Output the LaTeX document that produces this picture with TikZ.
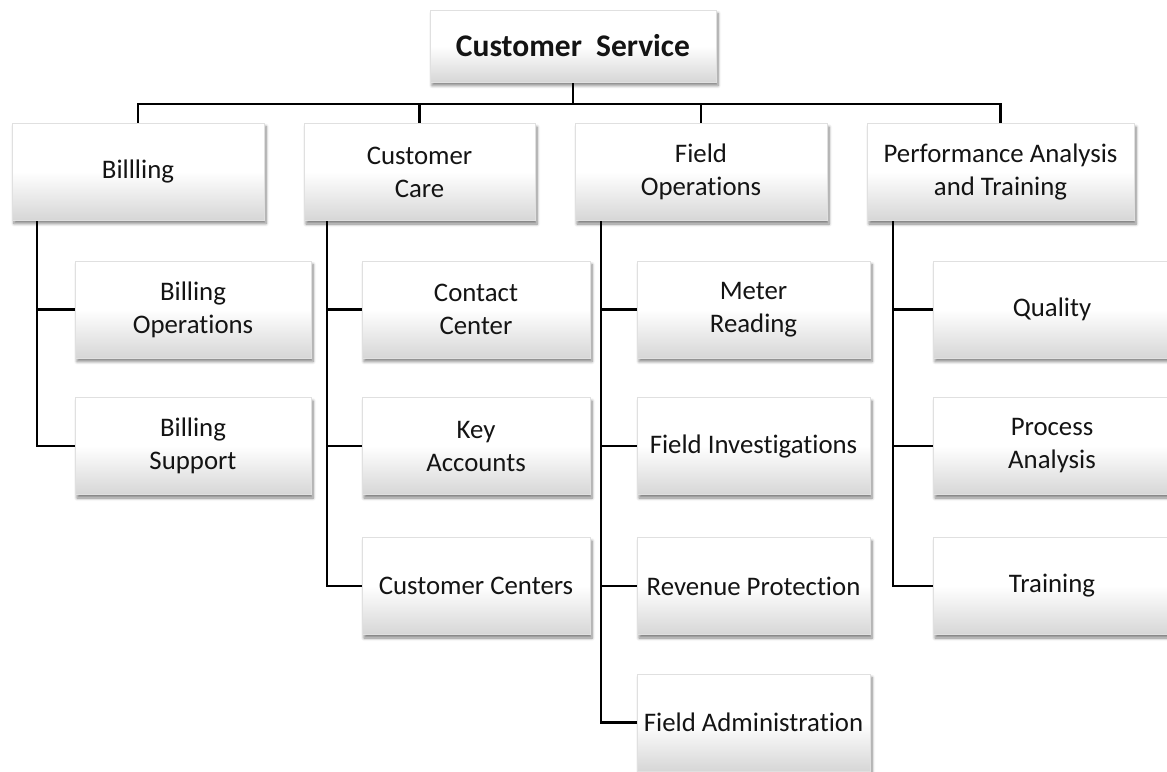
\documentclass[tikz,border=0pt]{standalone}
\usepackage{fontspec}
\setmainfont{Carlito}[Ligatures=NoCommon]
\usetikzlibrary{shadows.blur,backgrounds}
\tikzset{
  box/.style={rectangle, inner sep=0pt, align=center,
    draw=black!12, line width=0.4pt,
    top color=white, bottom color=black!16, middle color=white,
    blur shadow={shadow xshift=2pt, shadow yshift=-3.5pt, shadow blur steps=6, shadow blur radius=3pt, shadow opacity=50},
    font=\fontsize{26.8}{33}\selectfont, text=black!92},
  lvl1/.style={box, minimum height=97pt},
  lvl2/.style={box, minimum height=97pt},
  conn/.style={line width=2.2pt, black}
}
\begin{document}
\begin{tikzpicture}[x=1pt,y=-1pt]
\useasboundingbox (0,0) rectangle (1167,771);
% top
\node[box, minimum width=286pt, minimum height=72pt, font=\bfseries\fontsize{31.5}{36}\selectfont] (cs) at (573,46) {Customer\ \ Service};
% level 1
\node[lvl1, minimum width=252pt] (bil) at (138,171.5) {Billling};
\node[lvl1, minimum width=231pt] (cc) at (419.5,172) {Customer\\Care};
\node[lvl1, minimum width=252pt] (fo) at (701,172) {Field\\Operations};
\node[lvl1, minimum width=267pt] (pat) at (1000.5,172) {Performance Analysis\\and Training};
% billing children
\node[lvl2, minimum width=236pt] (bops) at (193,309.5) {Billing\\Operations};
\node[lvl2, minimum width=236pt] (bsup) at (193,446) {Billing\\Support};
% customer care children
\node[lvl2, minimum width=228pt] (ctc) at (476,309.5) {Contact\\Center};
\node[lvl2, minimum width=228pt] (key) at (476,446) {Key\\Accounts};
\node[lvl2, minimum width=228pt] (ccen) at (476,586) {Customer Centers};
% field operations children
\node[lvl2, minimum width=233pt] (mr) at (753.5,309.5) {Meter\\Reading};
\node[lvl2, minimum width=233pt] (fi) at (753.5,446) {Field Investigations};
\node[lvl2, minimum width=233pt] (rp) at (753.5,586) {Revenue Protection};
\node[lvl2, minimum width=233pt] (fa) at (753.5,722.5) {Field Administration};
% performance children
\node[lvl2, minimum width=238pt] (qual) at (1052,309.5) {Quality};
\node[lvl2, minimum width=238pt] (proc) at (1052,446) {Process\\Analysis};
\node[lvl2, minimum width=238pt] (trn) at (1052,586) {Training};
\begin{scope}[on background layer]
\coordinate (bus) at (573,104);
\draw[conn] (cs.south) -- (bus);
\draw[conn] (bus) -| (bil.north);
\draw[conn] (bus) -| (cc.north);
\draw[conn] (bus) -| (fo.north);
\draw[conn] (bus) -| (pat.north);
\draw[conn] ([xshift=25pt]bil.south west) |- (bops.west);
\draw[conn] ([xshift=25pt]bil.south west) |- (bsup.west);
\draw[conn] ([xshift=23pt]cc.south west) |- (ctc.west);
\draw[conn] ([xshift=23pt]cc.south west) |- (key.west);
\draw[conn] ([xshift=23pt]cc.south west) |- (ccen.west);
\draw[conn] ([xshift=26pt]fo.south west) |- (mr.west);
\draw[conn] ([xshift=26pt]fo.south west) |- (fi.west);
\draw[conn] ([xshift=26pt]fo.south west) |- (rp.west);
\draw[conn] ([xshift=26pt]fo.south west) |- (fa.west);
\draw[conn] ([xshift=26pt]pat.south west) |- (qual.west);
\draw[conn] ([xshift=26pt]pat.south west) |- (proc.west);
\draw[conn] ([xshift=26pt]pat.south west) |- (trn.west);
\end{scope}
\end{tikzpicture}
\end{document}
